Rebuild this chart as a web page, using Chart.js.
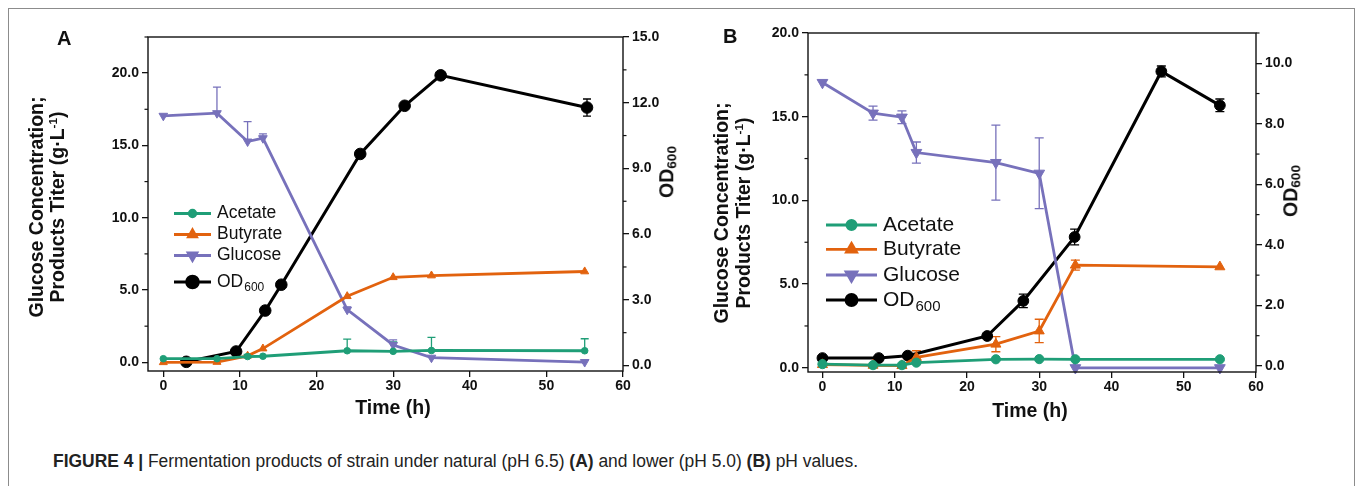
<!DOCTYPE html>
<html><head><meta charset="utf-8">
<script src="https://cdn.jsdelivr.net/npm/chart.js@4.4.0/dist/chart.umd.min.js"></script>
<style>
html,body{margin:0;padding:0;background:#fff;}
body{width:1357px;height:486px;position:relative;overflow:hidden;font-family:"Liberation Sans",Arial,sans-serif;color:#111;}
#frame{position:absolute;left:8px;top:8px;width:1345px;height:520px;border:1px solid #8c8c8c;}
canvas{position:absolute;top:0;}
.t{position:absolute;font-weight:bold;white-space:nowrap;line-height:1;color:#111;}
.rot{transform:translate(-50%,-50%) rotate(-90deg);}
.ctr{transform:translate(-50%,-50%);}
.t sub{font-size:70%;vertical-align:-0.25em;line-height:0;}
.t sup{font-size:60%;vertical-align:0.6em;line-height:0;}
#cap{position:absolute;left:53px;top:453px;font-size:17.5px;white-space:nowrap;color:#222;transform-origin:0 0;line-height:1;}
</style></head>
<body>
<div id="frame"></div>
<canvas id="cA" width="680" height="430" style="left:0"></canvas>
<canvas id="cB" width="677" height="430" style="left:680px"></canvas>

<div class="t" style="left:57px;top:28px;font-size:20px;">A</div>
<div class="t" style="left:723px;top:26px;font-size:20px;">B</div>

<div class="t rot" style="left:37px;top:207px;font-size:19.5px;">Glucose Concentration;</div>
<div class="t rot" style="left:58px;top:207px;font-size:19.5px;">Products Titer (g·L<sup>-1</sup>)</div>
<div class="t rot" style="left:667px;top:172px;font-size:19.5px;">OD<sub>600</sub></div>
<div class="t ctr" style="left:393px;top:408px;font-size:19.5px;">Time (h)</div>

<div class="t rot" style="left:722px;top:213px;font-size:19.5px;">Glucose Concentration;</div>
<div class="t rot" style="left:744px;top:213px;font-size:19.5px;">Products Titer (g·L<sup>-1</sup>)</div>
<div class="t rot" style="left:1291px;top:191px;font-size:19.5px;">OD<sub>600</sub></div>
<div class="t ctr" style="left:1030px;top:411px;font-size:19.5px;">Time (h)</div>

<div id="cap"><b>FIGURE 4 |</b> Fermentation products of strain under natural (pH 6.5) <b>(A)</b> and lower (pH 5.0) <b>(B)</b> pH values.</div>

<script>
// ---------- DATA ----------
const seriesNames = ['Acetate','Butyrate','Glucose','OD'];
// Panel A (pH 6.5)
const timeA      = [0, 7, 11, 13, 24, 30, 35, 55];
const acetateA   = [0.25, 0.25, 0.40, 0.42, 0.80, 0.76, 0.82, 0.80];
const acetateUpA = [0, 0, 0.15, 0, 0.80, 0.65, 0.90, 0.83];
const butyrateA  = [0.00, 0.02, 0.45, 0.95, 4.57, 5.88, 6.00, 6.28];
const glucoseA   = [17.05, 17.23, 15.27, 15.50, 3.64, 1.20, 0.32, 0.02];
const glucoseUpA = [0, 1.80, 1.38, 0.30, 0.20, 0.35, 0, 0];
const timeOdA    = [3, 9.5, 13.3, 15.4, 25.7, 31.5, 36.2, 55.3];
const odA        = [0.17, 0.64, 2.51, 3.69, 9.66, 11.86, 13.25, 11.78];
const odErrA     = [0, 0, 0, 0, 0, 0, 0, 0.39];
// Panel B (pH 5.0)
const timeB       = [0, 7, 11, 13, 24, 30, 35, 55];
const acetateB    = [0.22, 0.16, 0.16, 0.31, 0.51, 0.52, 0.51, 0.51];
const butyrateB   = [0.19, 0.15, 0.13, 0.62, 1.41, 2.20, 6.13, 6.03];
const butyrateErrB= [0, 0, 0, 0.40, 0.45, 0.70, 0.30, 0];
const glucoseB    = [17.04, 15.21, 14.97, 12.86, 12.26, 11.62, 0.00, 0.00];
const glucoseErrB = [0, 0.42, 0.38, 0.63, 2.24, 2.11, 0, 0];
const timeOdB     = [0, 7.8, 11.8, 22.8, 27.8, 34.9, 46.9, 55];
const odB         = [0.26, 0.26, 0.34, 0.99, 2.15, 4.26, 9.73, 8.61];
const odErrB      = [0, 0, 0, 0.05, 0.22, 0.26, 0.18, 0.21];
// Ticks
const ticksX      = [0, 10, 20, 30, 40, 50, 60];
const ticksLeftA  = [0, 5, 10, 15, 20];
const ticksRightA = [0, 3, 6, 9, 12, 15];
const ticksLeftB  = [0, 5, 10, 15, 20];
const ticksRightB = [0, 2, 4, 6, 8, 10];

// ---------- STYLE ----------
const C_AC='#1f9e77', C_BU='#e2620e', C_GL='#7771bb', C_OD='#000000';
const pts=(xs,ys)=>xs.map((x,i)=>({x:x,y:ys[i]}));

const errorBars={
  id:'errorBars',
  beforeDatasetsDraw(chart,args,opts){
    const ctx=chart.ctx, xs=chart.scales.x;
    chart.data.datasets.forEach(ds=>{
      if(!ds.errUp && !ds.errDown) return;
      const ys=chart.scales[ds.yAxisID];
      ctx.save(); ctx.strokeStyle=ds.borderColor; ctx.lineWidth=1.3;
      const cap=opts.cap||4;
      ds.data.forEach((p,j)=>{
        const up=ds.errUp?ds.errUp[j]:0, dn=ds.errDown?ds.errDown[j]:0;
        if(!up && !dn) return;
        const px=xs.getPixelForValue(p.x);
        const t=ys.getPixelForValue(p.y+up), b=ys.getPixelForValue(p.y-dn);
        ctx.beginPath(); ctx.moveTo(px,t); ctx.lineTo(px,b);
        if(up){ctx.moveTo(px-cap,t);ctx.lineTo(px+cap,t);}
        if(dn){ctx.moveTo(px-cap,b);ctx.lineTo(px+cap,b);}
        ctx.stroke();
      });
      ctx.restore();
    });
  }
};

const boxPlugin={
  id:'boxPlugin',
  afterDraw(chart,args,opts){
    const ctx=chart.ctx, a=chart.chartArea;
    ctx.save(); ctx.strokeStyle='#111'; ctx.lineWidth=1.4;
    ctx.strokeRect(a.left,a.top,a.right-a.left,a.bottom-a.top);
    const drawMinor=(sc,step,side)=>{
      for(let v=Math.ceil(sc.min/step)*step; v<=sc.max+1e-9; v+=step){
        if(Math.abs(v/(step*2)-Math.round(v/(step*2)))<1e-6) continue;
        const y=sc.getPixelForValue(v);
        ctx.beginPath();
        if(side==='left'){ctx.moveTo(a.left,y);ctx.lineTo(a.left-3.5,y);}
        else {ctx.moveTo(a.right,y);ctx.lineTo(a.right+3.5,y);}
        ctx.stroke();
      }
    };
    ctx.lineWidth=1.2;
    drawMinor(chart.scales.y,opts.minorL,'left');
    drawMinor(chart.scales.y2,opts.minorR,'right');
    ctx.restore();
  }
};

const legendPlugin={
  id:'legendPlugin',
  afterDraw(chart,args,o){
    const ctx=chart.ctx;
    chart.data.datasets.forEach((ds,i)=>{
      const y=o.rows[i];
      ctx.save();
      ctx.strokeStyle=ds.borderColor; ctx.lineWidth=ds.borderWidth;
      ctx.beginPath(); ctx.moveTo(o.x1,y); ctx.lineTo(o.x2,y); ctx.stroke();
      ctx.fillStyle=ds.borderColor;
      Chart.helpers.drawPoint(ctx,{pointStyle:ds.pointStyle,radius:ds.pointRadius,rotation:ds.pointRotation||0,borderWidth:1},(o.x1+o.x2)/2,y);
      ctx.fillStyle='#111'; ctx.textBaseline='middle'; ctx.textAlign='left';
      ctx.font=o.size+'px "Liberation Sans", Arial, sans-serif';
      if(ds.label==='OD'){
        ctx.fillText('OD',o.tx,y);
        const w=ctx.measureText('OD').width;
        ctx.font=Math.round(o.size*0.7)+'px "Liberation Sans", Arial, sans-serif';
        ctx.fillText('600',o.tx+w+1,y+o.size*0.32);
      } else ctx.fillText(ds.label,o.tx,y);
      ctx.restore();
    });
  }
};

function makeScales(xMin,xMax,lMin,lMax,rMin,rMax,wL,wR,hX,tL,tR){
  const tickFont={family:'"Liberation Sans", Arial, sans-serif',size:14,weight:'bold'};
  const grid={drawOnChartArea:false,color:'#111',lineWidth:1.3,tickLength:6,tickColor:'#111'};
  return {
    x:{type:'linear',min:xMin,max:xMax,position:'bottom',grid:grid,border:{display:false},
       afterBuildTicks:s=>{s.ticks=ticksX.map(v=>({value:v}));},
       ticks:{font:tickFont,color:'#111',padding:1,maxRotation:0,callback:v=>String(v)},
       afterFit:s=>{s.height=hX;}},
    y:{type:'linear',min:lMin,max:lMax,position:'left',grid:grid,border:{display:false},
       afterBuildTicks:s=>{s.ticks=tL.map(v=>({value:v}));},
       ticks:{font:tickFont,color:'#111',padding:3,callback:v=>Number(v).toFixed(1)},
       afterFit:s=>{s.width=wL;}},
    y2:{type:'linear',min:rMin,max:rMax,position:'right',grid:grid,border:{display:false},
       afterBuildTicks:s=>{s.ticks=tR.map(v=>({value:v}));},
       ticks:{font:tickFont,color:'#111',padding:3,callback:v=>Number(v).toFixed(1)},
       afterFit:s=>{s.width=wR;}}
  };
}

function ds(label,data,color,style,rot,r,bw,axis,up,dn){
  return {label:label,data:data,borderColor:color,backgroundColor:color,pointBackgroundColor:color,
    pointBorderColor:color,pointStyle:style,pointRotation:rot,pointRadius:r,pointHoverRadius:r,pointBorderWidth:1,
    borderWidth:bw,yAxisID:axis,tension:0,errUp:up,errDown:dn,clip:false};
}

new Chart(document.getElementById('cA'),{
  type:'line',
  data:{datasets:[
    ds('Acetate',pts(timeA,acetateA),C_AC,'circle',0,3.3,2.8,'y',acetateUpA,null),
    ds('Butyrate',pts(timeA,butyrateA),C_BU,'triangle',0,4.6,2.8,'y',null,null),
    ds('Glucose',pts(timeA,glucoseA),C_GL,'triangle',180,5,2.8,'y',glucoseUpA,null),
    ds('OD',pts(timeOdA,odA),C_OD,'circle',0,5.8,3,'y2',odErrA,odErrA)
  ]},
  options:{responsive:false,animation:false,events:[],
    layout:{padding:{top:37,left:0,right:0,bottom:0}},
    scales:makeScales(-2,60,-0.6,22.5,-0.25,15,148,57,59,ticksLeftA,ticksRightA),
    plugins:{legend:{display:false},tooltip:{enabled:false},
      errorBars:{cap:4},boxPlugin:{minorL:2.5,minorR:1.5},
      legendPlugin:{x1:174,x2:211,tx:217,size:17.5,rows:[213.5,234.5,255.5,282]}}
  },
  plugins:[errorBars,boxPlugin,legendPlugin]
});

new Chart(document.getElementById('cB'),{
  type:'line',
  data:{datasets:[
    ds('Acetate',pts(timeB,acetateB),C_AC,'circle',0,4.6,2.8,'y',null,null),
    ds('Butyrate',pts(timeB,butyrateB),C_BU,'triangle',0,5.8,2.8,'y',butyrateErrB,butyrateErrB),
    ds('Glucose',pts(timeB,glucoseB),C_GL,'triangle',180,6.2,2.8,'y',glucoseErrB,glucoseErrB),
    ds('OD',pts(timeOdB,odB),C_OD,'circle',0,5.4,3,'y2',odErrB,odErrB)
  ]},
  options:{responsive:false,animation:false,events:[],
    layout:{padding:{top:33,left:0,right:0,bottom:0}},
    scales:makeScales(-2,60,-0.25,20,-0.2,11,128,101,58,ticksLeftB,ticksRightB),
    plugins:{legend:{display:false},tooltip:{enabled:false},
      errorBars:{cap:4.5},boxPlugin:{minorL:2.5,minorR:1},
      legendPlugin:{x1:146,x2:197,tx:203,size:21,rows:[225,249.3,275,300]}}
  },
  plugins:[errorBars,boxPlugin,legendPlugin]
});

(function(){
  const cap=document.getElementById('cap');
  const w=cap.getBoundingClientRect().width;
  cap.style.transform='scaleX('+(805/w)+')';
})();
</script>
</body></html>
